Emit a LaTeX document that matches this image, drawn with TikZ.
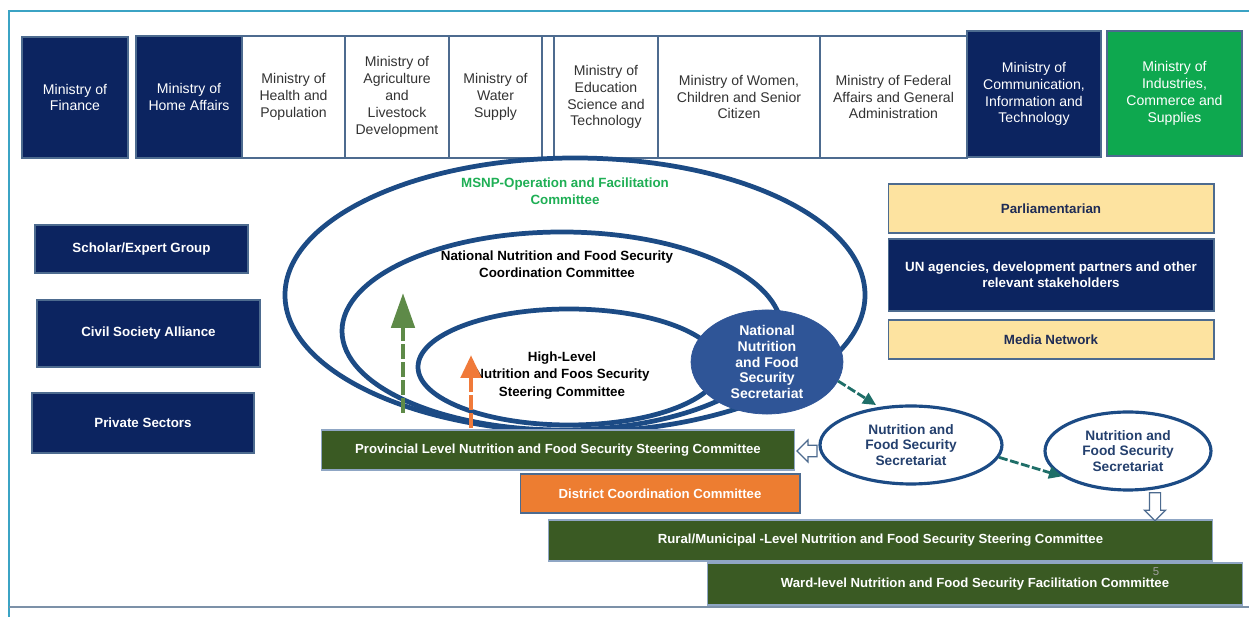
\documentclass[tikz,border=0pt]{standalone}
\usepackage{fontspec}
\setmainfont{Liberation Sans}
\usepackage{tikz}
\usetikzlibrary{arrows.meta,shapes.geometric,shapes.arrows}

\definecolor{navy}{HTML}{0C2460}
\definecolor{boxline}{HTML}{4D6B8F}
\definecolor{mingreen}{HTML}{0EA84F}
\definecolor{bargreen}{HTML}{3A5A23}
\definecolor{barline}{HTML}{8FA6C4}
\definecolor{barorange}{HTML}{ED7D31}
\definecolor{paleyellow}{HTML}{FDE3A0}
\definecolor{yellowtext}{HTML}{1F2C55}
\definecolor{ringblue}{HTML}{1C4B85}
\definecolor{secblue}{HTML}{2F5597}
\definecolor{sectext}{HTML}{24406E}
\definecolor{msnpgreen}{HTML}{1FAF55}
\definecolor{frameteal}{HTML}{3BA3C4}
\definecolor{framegray}{HTML}{7C91A8}
\definecolor{arrowteal}{HTML}{1E6E68}
\definecolor{risegreen}{HTML}{5E8A48}
\definecolor{riseorange}{HTML}{F07A3A}

\begin{document}
\begin{tikzpicture}[x=0.02cm,y=-0.02cm,
	ministry/.style={draw=boxline,line width=0.6pt,align=center,inner sep=0pt,font=\fontsize{8}{9.6}\selectfont},
	navybox/.style={ministry,fill=navy,text=white},
	plainbox/.style={ministry,fill=white,text=black!80},
	partner/.style={ministry,fill=navy,text=white,font=\bfseries\fontsize{7.6}{9.2}\selectfont},
	yellowbox/.style={partner,fill=paleyellow,text=yellowtext},
	levelbar/.style={partner,draw=barline,fill=bargreen,font=\bfseries\fontsize{7.5}{9}\selectfont},
	ring/.style={draw=ringblue,line width=2.7pt},
	ringlabel/.style={align=center,font=\bfseries\fontsize{7.6}{9.8}\selectfont},
	secretariat/.style={ellipse,draw=ringblue,line width=1.8pt,fill=white,text=sectext,align=center,inner sep=0pt,font=\bfseries\fontsize{7.8}{8.6}\selectfont},
	flow/.style={draw=arrowteal,line width=1.6pt,dash pattern=on 5pt off 1.5pt,-{Triangle[length=0.26cm,width=0.24cm]}},
	hollow/.style={single arrow,draw=boxline,fill=white,line width=0.7pt,inner sep=0.1cm,single arrow head extend=0.1cm},
	rise/.style={line width=2.8pt,dash pattern=on 0.3cm off 0.06cm}
]
	\fill[white] (0,0) rectangle (1249,617);
	\useasboundingbox (0,0) rectangle (1249,617);

	%frame
	\draw[frameteal,line width=1.1pt] (9,617)--(9,11)--(1249,11);
	\draw[framegray,line width=1.1pt] (9,607)--(1249,607);

	%ministries
	\node[navybox,minimum width=2.12cm,minimum height=2.42cm] (fin) at (75,97.5) {Ministry of\\Finance};
	\node[navybox,minimum width=2.12cm,minimum height=2.44cm] (home) at (189,97) {Ministry of\\Home Affairs};
	\node[plainbox,minimum width=2.06cm,minimum height=2.44cm] (health) at (293.5,97) {Ministry of\\Health and\\Population};
	\node[plainbox,minimum width=2.08cm,minimum height=2.44cm] (agri) at (397,97) {Ministry of\\Agriculture\\and\\Livestock\\Development};
	\node[plainbox,minimum width=1.86cm,minimum height=2.44cm] (water) at (495.5,97) {Ministry of\\Water\\Supply};
	\node[plainbox,minimum width=0.24cm,minimum height=2.44cm] (blank) at (548,97) {};
	\node[plainbox,minimum width=2.08cm,minimum height=2.44cm] (edu) at (606,97) {Ministry of\\Education\\Science and\\Technology};
	\node[plainbox,minimum width=3.24cm,minimum height=2.44cm] (women) at (739,97) {Ministry of Women,\\Children and Senior\\Citizen};
	\node[plainbox,minimum width=2.94cm,minimum height=2.44cm] (fed) at (893.5,97) {Ministry of Federal\\Affairs and General\\Administration};
	\node[navybox,minimum width=2.68cm,minimum height=2.52cm] (comm) at (1034,94) {Ministry of\\Communication,\\Information and\\Technology};
	\node[navybox,fill=mingreen,minimum width=2.7cm,minimum height=2.5cm] (ind) at (1174.5,93.5) {Ministry of\\Industries,\\Commerce and\\Supplies};

	%left partners
	\node[partner,minimum width=4.26cm,minimum height=0.96cm] (scholar) at (141.5,249) {Scholar/Expert Group};
	\node[partner,minimum width=4.46cm,minimum height=1.34cm] (civil) at (148.5,333.5) {Civil Society Alliance};
	\node[partner,minimum width=4.44cm,minimum height=1.2cm] (private) at (143,423) {Private Sectors};

	%right partners
	\node[yellowbox,minimum width=6.52cm,minimum height=0.98cm] (parl) at (1051,208.5) {Parliamentarian};
	\node[partner,minimum width=6.52cm,minimum height=1.44cm] (un) at (1051,275) {UN agencies, development partners and other\\relevant stakeholders};
	\node[yellowbox,minimum width=6.52cm,minimum height=0.78cm] (media) at (1051,339.5) {Media Network};

	%rings
	\draw[ring] (575,295) ellipse [x radius=290, y radius=137];
	\draw[ring] (562,331) ellipse [x radius=220, y radius=99];
	\draw[ring] (569,367) ellipse [x radius=151, y radius=58];

	%ring labels
	\node[ringlabel,text=msnpgreen] (msnp) at (565,191) {MSNP-Operation and Facilitation\\Committee};
	\node[ringlabel] (nnfscc) at (557,264.5) {National Nutrition and Food Security\\Coordination Committee};
	\node[ringlabel] (hlsc) at (562,375.5) {High-Level\\Nutrition and Foos Security\\Steering Committee};

	%upward arrows
	\coordinate (g0) at (403,413);
	\coordinate (g1) at (403,293);
	\coordinate (o0) at (471,428);
	\coordinate (o1) at (471,355);
	\draw[rise,risegreen,-{Triangle[length=0.7cm,width=0.46cm]}] (g0)--(g1);
	\draw[rise,riseorange,-{Triangle[length=0.46cm,width=0.4cm]}] (o0)--(o1);

	%national secretariat
	\node[ellipse,fill=secblue,draw=secblue,minimum width=3.04cm,minimum height=2.04cm,inner sep=0pt,align=center,text=white,font=\bfseries\fontsize{8}{9}\selectfont] (nsec) at (767,362) {National\\Nutrition\\and Food\\Security\\Secretariat};

	%levels
	\node[levelbar,minimum width=9.48cm,minimum height=0.8cm] (prov) at (558,450) {Provincial Level Nutrition and Food Security Steering Committee};
	\node[levelbar,fill=barorange,draw=boxline,minimum width=5.6cm,minimum height=0.78cm] (dist) at (660,493.5) {District Coordination Committee};
	\node[levelbar,minimum width=13.3cm,minimum height=0.82cm] (rural) at (880.5,540.5) {Rural/Municipal -Level Nutrition and Food Security Steering Committee};
	\node[levelbar,minimum width=10.72cm,minimum height=0.84cm] (ward) at (975,584) {Ward-level Nutrition and Food Security Facilitation Committee};
	\node[text=gray!75,font=\fontsize{6.5}{7}\selectfont] (pagenum) at (1156,572) {5};

	%secretariats below
	\node[secretariat,minimum width=3.64cm,minimum height=1.56cm] (psec) at (911,445) {Nutrition and\\Food Security\\Secretariat};
	\node[secretariat,minimum width=3.32cm,minimum height=1.56cm] (rsec) at (1128,451) {Nutrition and\\Food Security\\Secretariat};

	%connectors
	\draw[flow,shorten >=2pt] (nsec.-15)--(psec.130);
	\draw[flow] (psec.-8)--(rsec.201);
	\node[hollow,shape border rotate=180,minimum height=0.4cm,minimum width=0.44cm] (toprov) at (810,451) {};
	\node[hollow,shape border rotate=270,minimum height=0.56cm,minimum width=0.4cm] (torural) at (1155,504) {};
\end{tikzpicture}
\end{document}
